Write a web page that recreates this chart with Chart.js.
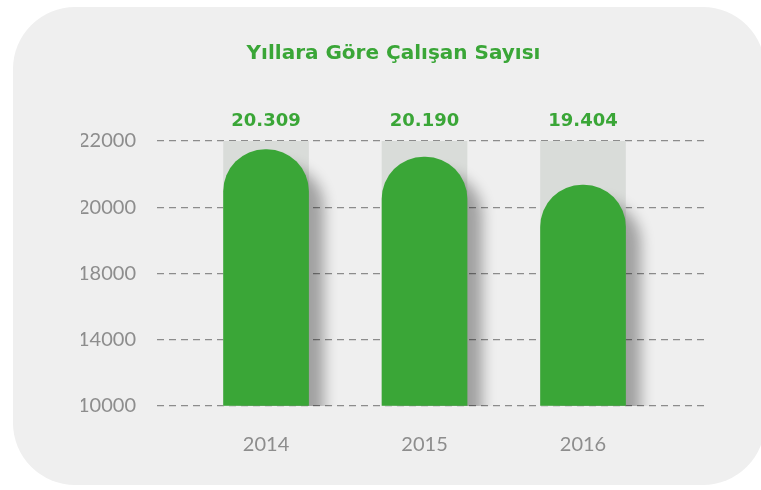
<!DOCTYPE html>
<html>
<head>
<meta charset="utf-8">
<script src="https://cdn.jsdelivr.net/npm/chart.js@4/dist/chart.umd.min.js"></script>
<style>
  html, body { margin: 0; padding: 0; background: #ffffff; }
  #panel {
    position: absolute; left: 13px; top: 7px; width: 752px; height: 478px;
    background: #efefef; border-radius: 62px;
  }
  #wrap { position: absolute; left: 0; top: 0; width: 761px; height: 490px; }
</style>
</head>
<body>
<div id="panel"></div>
<div id="wrap"><canvas id="employeeChart" width="761" height="490"></canvas></div>
<script>
// values
const years = ['2014', '2015', '2016'];
const yTicks = [10000, 14000, 18000, 20000, 22000]; // equally spaced on the axis
const employeeLabels = ['20.309', '20.190', '19.404'];
const barTops = [21740, 21515, 20670];   // where the bars end against the axis
const columnTops = [22000, 22000, 22000]; // grey backing columns

const green = '#3aa637';
const grey = '#8d8d8d';

// the axis is not linear: every tick step gets the same height
function toAxis(v) {
    for (let i = 0; i < yTicks.length - 1; i++) {
        if (v <= yTicks[i + 1]) {
            return i + (v - yTicks[i]) / (yTicks[i + 1] - yTicks[i]);
        }
    }
    return yTicks.length - 1;
}

const valueLabels = {
    id: 'valueLabels',
    afterDatasetsDraw(chart) {
        const ctx = chart.ctx;
        const meta = chart.getDatasetMeta(0);
        ctx.save();
        ctx.fillStyle = green;
        ctx.font = 'bold 18px "DejaVu Sans"';
        ctx.textAlign = 'center';
        ctx.textBaseline = 'middle';
        meta.data.forEach((el, i) => {
            ctx.fillText(employeeLabels[i], el.x, el.y - 20);
        });
        ctx.restore();
    }
};

const barShadow = {
    id: 'barShadow',
    beforeDatasetDraw(chart, args) {
        if (args.index !== 1) return;
        const ctx = chart.ctx;
        ctx.save();
        ctx.shadowColor = 'rgba(0,0,0,0.33)';
        ctx.shadowBlur = 14;
        ctx.shadowOffsetX = 15;
        ctx.shadowOffsetY = 16;
    },
    afterDatasetDraw(chart, args) {
        if (args.index !== 1) return;
        chart.ctx.restore();
    }
};

new Chart(document.getElementById('employeeChart').getContext('2d'), {
    type: 'bar',
    data: {
        datasets: [
            {
                label: 'column',
                data: columnTops.map((v, i) => ({ x: i, y: toAxis(v) })),
                backgroundColor: '#d9dcd9',
                barThickness: 85,
                grouped: false,
                order: 2
            },
            {
                label: 'Çalışan',
                data: barTops.map((v, i) => ({ x: i, y: toAxis(v) })),
                backgroundColor: green,
                barThickness: 85,
                grouped: false,
                borderSkipped: 'bottom',
                borderRadius: { topLeft: 42, topRight: 42, bottomLeft: 0, bottomRight: 0 },
                order: 1
            }
        ]
    },
    options: {
        responsive: false,
        animation: false,
        layout: { padding: { left: 81, right: 55, top: 0, bottom: 14 } },
        plugins: {
            legend: { display: false },
            tooltip: { enabled: false },
            title: {
                display: true,
                text: 'Yıllara Göre Çalışan Sayısı',
                color: green,
                font: { family: 'DejaVu Sans', size: 20, weight: 'bold', lineHeight: 1.2 },
                padding: { top: 42, bottom: 75 }
            }
        },
        scales: {
            x: {
                type: 'linear',
                offset: false,
                min: -0.688,
                max: 2.776,
                afterBuildTicks: (scale) => { scale.ticks = years.map((y, i) => ({ value: i })); },
                ticks: {
                    callback: (v) => years[v],
                    color: grey,
                    font: { family: 'Lato', size: 20 },
                    padding: 19,
                    maxRotation: 0
                },
                grid: { display: false },
                border: { display: false }
            },
            y: {
                min: 0,
                max: yTicks.length - 1,
                afterBuildTicks: (scale) => { scale.ticks = yTicks.map((t, i) => ({ value: i })); },
                afterFit: (scale) => { scale.width = 76; },
                ticks: {
                    callback: (v) => yTicks[v],
                    color: grey,
                    font: { family: 'Lato', size: 20 },
                    padding: 21
                },
                grid: { color: '#8c8c8c', lineWidth: 1.3, drawTicks: false },
                border: { display: false, dash: [7, 5] }
            }
        }
    },
    plugins: [valueLabels, barShadow]
});
</script>
</body>
</html>
